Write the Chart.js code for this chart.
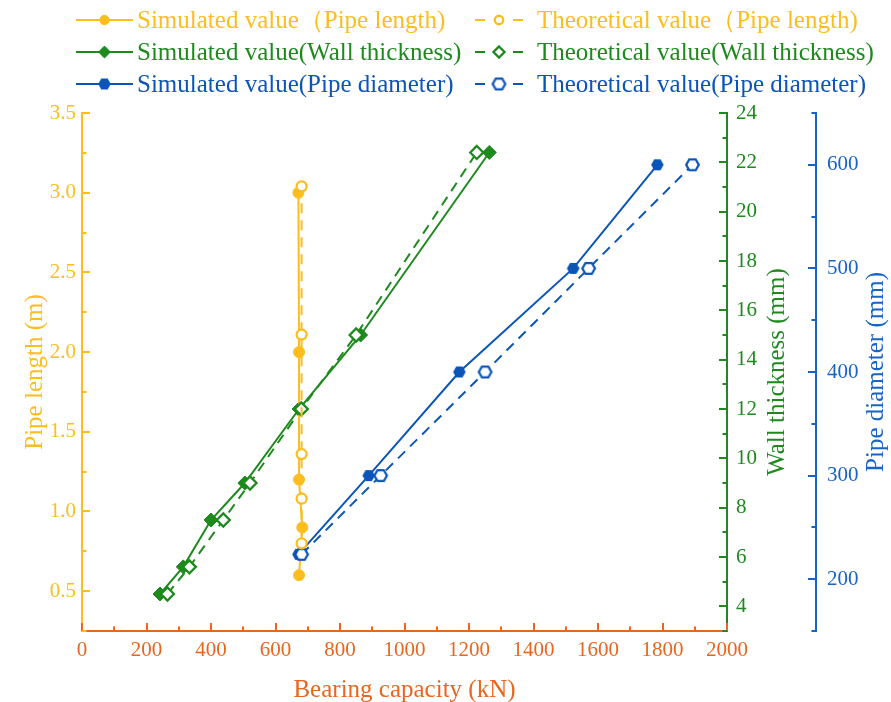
<!DOCTYPE html>
<html>
<head>
<meta charset="utf-8">
<script src="https://cdn.jsdelivr.net/npm/chart.js@4.4.1/dist/chart.umd.min.js"></script>
<style>
  html, body { margin: 0; padding: 0; background: #fff; }
</style>
</head>
<body>
<canvas id="capacityChart" width="891" height="702"></canvas>
<script>
// bearing capacity (kN) against pipe length, wall thickness and pipe diameter
const lengthSimLoad = [671, 673, 673, 683, 673];
const lengthSimVal = [3.0, 2.0, 1.2, 0.9, 0.6];
const lengthTheoLoad = [681, 681, 681, 681, 681];
const lengthTheoVal = [3.04, 2.11, 1.36, 1.08, 0.80];

const wallSimLoad = [242, 314, 400, 505, 673, 864, 1263];
const wallTheoLoad = [265, 333, 438, 521, 680, 850, 1224];
const wallVal = [4.5, 5.6, 7.5, 9, 12, 15, 22.4];

const diamSimLoad = [671, 889, 1170, 1523, 1784];
const diamTheoLoad = [681, 926, 1250, 1571, 1893];
const diamVal = [224, 300, 400, 500, 600];

// tick labels
const loadTicks = [0, 200, 400, 600, 800, 1000, 1200, 1400, 1600, 1800, 2000];
const lengthTicks = [0.5, 1.0, 1.5, 2.0, 2.5, 3.0, 3.5];
const wallTicks = [4, 6, 8, 10, 12, 14, 16, 18, 20, 22, 24];
const diamTicks = [200, 300, 400, 500, 600];

const labels = [
  'Simulated value（Pipe length)', 'Theoretical value（Pipe length)',
  'Simulated value(Wall thickness)', 'Theoretical value(Wall thickness)',
  'Simulated value(Pipe diameter)', 'Theoretical value(Pipe diameter)'
];

const YELLOW = '#FDBD1C';
const GREEN = '#1E8A1E';
const BLUE = '#0B55B8';
const BLUE_AXIS = '#1763C6';
const ORANGE = '#E8661E';
const FONT = '"Liberation Serif", "Times New Roman", serif';

function pts(xs, ys) {
  return xs.map((x, i) => ({ x: x, y: ys[i] }));
}

// hexagon marker for the diameter series
function hexagon(color, filled) {
  const c = document.createElement('canvas');
  c.width = 17; c.height = 17;
  const g = c.getContext('2d');
  g.beginPath();
  for (let i = 0; i < 6; i++) {
    const a = Math.PI / 3 * i;
    const px = 8.5 + 6.3 * Math.cos(a), py = 8.5 + 6.3 * Math.sin(a);
    if (i) g.lineTo(px, py); else g.moveTo(px, py);
  }
  g.closePath();
  if (filled) {
    g.fillStyle = color; g.fill();
  } else {
    g.fillStyle = '#fff'; g.fill();
    g.lineWidth = 2.3; g.strokeStyle = color; g.stroke();
  }
  return c;
}

function series(label, data, axis, color, style, filled, radius) {
  return {
    label: label,
    data: data,
    yAxisID: axis,
    borderColor: color,
    borderWidth: 2,
    borderDash: filled ? [] : [10, 7],
    pointStyle: style,
    pointRadius: radius,
    pointBackgroundColor: filled ? color : '#fff',
    pointBorderColor: color,
    pointBorderWidth: filled ? 1 : 2.3,
    order: filled ? 2 : 1,
    tension: 0
  };
}

const datasets = [
  series(labels[0], pts(lengthSimLoad, lengthSimVal), 'y', YELLOW, 'circle', true, 5.5),
  series(labels[1], pts(lengthTheoLoad, lengthTheoVal), 'y', YELLOW, 'circle', false, 5),
  series(labels[2], pts(wallSimLoad, wallVal), 'y2', GREEN, 'rectRot', true, 7),
  series(labels[3], pts(wallTheoLoad, wallVal), 'y2', GREEN, 'rectRot', false, 6.5),
  series(labels[4], pts(diamSimLoad, diamVal), 'y3', BLUE, hexagon(BLUE, true), true, 6),
  series(labels[5], pts(diamTheoLoad, diamVal), 'y3', BLUE, hexagon(BLUE, false), false, 6)
];

// major and minor tick marks pointing into the plot
const tickDir = { x: 'up', y: 'right', y2: 'left', y3: 'left' };
const inwardTicks = {
  id: 'inwardTicks',
  afterDraw(chart) {
    const ctx = chart.ctx;
    Object.values(chart.scales).forEach(scale => {
      const vals = scale.ticks.map(t => t.value);
      const step = vals[1] - vals[0];
      const marks = vals.map(v => [v, 8]);
      for (let v = vals[0] - step / 2; v <= scale.max + 1e-6; v += step) {
        if (v >= scale.min - 1e-6) marks.push([v, 4.5]);
      }
      ctx.save();
      ctx.strokeStyle = scale.options.border.color;
      ctx.lineWidth = 2;
      marks.forEach(([v, len]) => {
        const p = Math.round(scale.getPixelForValue(v));
        ctx.beginPath();
        const dir = tickDir[scale.id];
        if (dir === 'up') { ctx.moveTo(p, scale.top); ctx.lineTo(p, scale.top - len); }
        else if (dir === 'right') { ctx.moveTo(scale.right, p); ctx.lineTo(scale.right + len, p); }
        else { ctx.moveTo(scale.left, p); ctx.lineTo(scale.left - len, p); }
        ctx.stroke();
      });
      ctx.restore();
    });
  }
};

// axis titles, the vertical ones read bottom to top
const axisTitles = {
  id: 'axisTitles',
  afterDraw(chart) {
    const { ctx, chartArea, scales } = chart;
    const midY = (chartArea.top + chartArea.bottom) / 2;
    ctx.save();
    ctx.font = '25px ' + FONT;
    ctx.textAlign = 'center';
    ctx.textBaseline = 'middle';
    ctx.fillStyle = ORANGE;
    ctx.fillText('Bearing capacity (kN)', (chartArea.left + chartArea.right) / 2, scales.x.top + 59);
    const vert = [
      ['Pipe length (m)', scales.y.left + 35, YELLOW],
      ['Wall thickness (mm)', scales.y2.left + 50, GREEN],
      ['Pipe diameter (mm)', scales.y3.left + 60, BLUE_AXIS]
    ];
    vert.forEach(([text, x, color]) => {
      ctx.save();
      ctx.translate(x, midY);
      ctx.rotate(-Math.PI / 2);
      ctx.fillStyle = color;
      ctx.fillText(text, 0, 0);
      ctx.restore();
    });
    ctx.restore();
  }
};

function legendMarker(ctx, ds, x, y) {
  const style = ds.pointStyle;
  if (typeof style === 'object') {
    ctx.drawImage(style, x - style.width / 2, y - style.height / 2);
    return;
  }
  const r = ds.pointRadius * 0.85;
  ctx.beginPath();
  if (style === 'circle') {
    ctx.arc(x, y, r, 0, Math.PI * 2);
  } else {
    ctx.moveTo(x, y - r); ctx.lineTo(x + r, y); ctx.lineTo(x, y + r); ctx.lineTo(x - r, y);
    ctx.closePath();
  }
  ctx.fillStyle = ds.pointBackgroundColor;
  ctx.fill();
  ctx.lineWidth = ds.pointBorderWidth;
  ctx.strokeStyle = ds.pointBorderColor;
  ctx.stroke();
}

// two column legend: line + marker, label in the series colour
const seriesLegend = {
  id: 'seriesLegend',
  afterDraw(chart) {
    const ctx = chart.ctx;
    const cols = [{ x0: 76, x1: 133, text: 137 }, { x0: 475, x1: 523, text: 537 }];
    ctx.save();
    ctx.font = '25px ' + FONT;
    ctx.textBaseline = 'middle';
    chart.data.datasets.forEach((ds, i) => {
      const col = cols[i % 2];
      const y = 20 + Math.floor(i / 2) * 32;
      const mid = (col.x0 + col.x1) / 2;
      ctx.strokeStyle = ds.borderColor;
      ctx.lineWidth = 2;
      ctx.beginPath();
      if (ds.borderDash.length) {
        ctx.moveTo(col.x0, y); ctx.lineTo(col.x0 + 10, y);
        ctx.moveTo(col.x1 - 10, y); ctx.lineTo(col.x1, y);
      } else {
        ctx.moveTo(col.x0, y); ctx.lineTo(col.x1, y);
      }
      ctx.stroke();
      legendMarker(ctx, ds, mid, y);
      ctx.fillStyle = ds.borderColor;
      ctx.fillText(ds.label, col.text, y + 1);
    });
    ctx.restore();
  }
};

function axis(position, min, max, values, color, width, padding, fmt) {
  return {
    type: 'linear',
    position: position,
    min: min,
    max: max,
    afterBuildTicks: s => { s.ticks = values.map(v => ({ value: v })); },
    afterFit: s => {
      if (position === 'bottom') s.height = width; else s.width = width;
    },
    grid: { display: false, drawTicks: false },
    border: { display: true, color: color, width: 2 },
    ticks: {
      color: color,
      padding: padding,
      autoSkip: false,
      maxRotation: 0,
      font: { family: FONT, size: 21 },
      callback: fmt
    }
  };
}

new Chart(document.getElementById('capacityChart'), {
  type: 'line',
  data: { datasets: datasets },
  options: {
    responsive: false,
    animation: false,
    events: [],
    layout: { padding: { top: 113, left: 0, right: 0, bottom: 0 } },
    plugins: { legend: { display: false }, tooltip: { enabled: false } },
    scales: {
      x: axis('bottom', 0, 2000, loadTicks, ORANGE, 71, 7, v => String(v)),
      y: axis('left', 0.25, 3.5, lengthTicks, YELLOW, 82, 6, v => v.toFixed(1)),
      y2: axis('right', 3, 24, wallTicks, GREEN, 89, 9, v => String(v)),
      y3: axis('right', 150, 650, diamTicks, BLUE_AXIS, 75, 11, v => String(v))
    }
  },
  plugins: [inwardTicks, axisTitles, seriesLegend]
});
</script>
</body>
</html>
